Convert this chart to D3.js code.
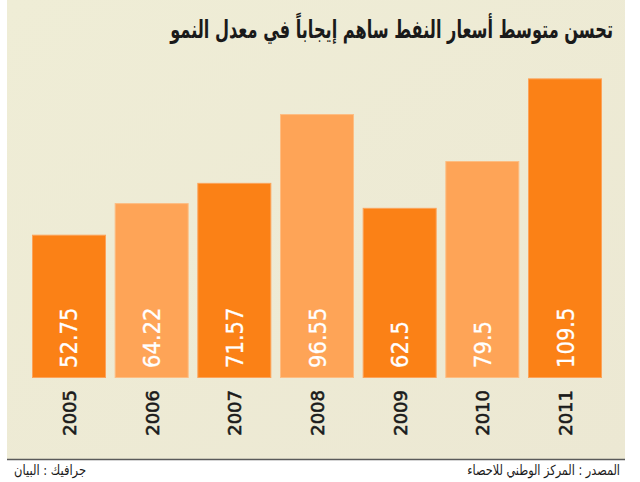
<!DOCTYPE html>
<html><head><meta charset="utf-8">
<script src="https://cdn.jsdelivr.net/npm/d3@7/dist/d3.min.js"></script>
<style>html,body{margin:0;padding:0;background:#fff;}svg{display:block;}</style>
</head><body>
<script>
const years = ["2005","2006","2007","2008","2009","2010","2011"];
const values = [52.75, 64.22, 71.57, 96.55, 62.5, 79.5, 109.5];
const shades = ["dark","light","dark","light","dark","light","dark"];
const title = "تحسن متوسط أسعار النفط ساهم إيجاباً في معدل النمو";
const source = "المصدر : المركز الوطني للاحصاء";
const credit = "جرافيك : البيان";

const W = 640, H = 482, base = 378;
const svg = d3.select("body").append("svg").attr("width", W).attr("height", H);
const defs = svg.append("defs");
const g = defs.append("linearGradient").attr("id","bg").attr("x1","0").attr("y1","0").attr("x2","1").attr("y2","1");
g.append("stop").attr("offset","0").attr("stop-color","#EFEDD6");
g.append("stop").attr("offset","1").attr("stop-color","#ECE8D3");

svg.append("rect").attr("x",7).attr("y",0).attr("width",618).attr("height",459).attr("fill","url(#bg)");
svg.append("line").attr("x1",7).attr("x2",625).attr("y1",459.5).attr("y2",459.5).attr("stroke","#5a5a5a").attr("stroke-width",1.5);

const x = d3.scaleBand().domain(years).range([32, 602]).paddingInner(0.105).paddingOuter(0);
const y = d3.scaleLinear().domain([0, 110]).range([380, 77]);
const fill = {dark:"#FB8116", light:"#FEA457"};
const edge = {dark:"#FCA35A", light:"#FDBD82"};

const bars = svg.append("g").selectAll("g").data(years).join("g");
bars.append("rect")
  .attr("x", d => x(d)+0.5).attr("width", x.bandwidth()-1)
  .attr("y", (d,i) => y(values[i])+0.5).attr("height", (d,i) => base - y(values[i]) - 1)
  .attr("fill", (d,i) => fill[shades[i]]).attr("stroke", (d,i) => edge[shades[i]]).attr("stroke-width",1);

bars.append("text")
  .attr("transform", d => `translate(${x(d)+x.bandwidth()/2+8.5},368) rotate(-90)`)
  .attr("text-anchor","start")
  .attr("font-family","'Liberation Sans Narrow','DejaVu Sans Condensed',sans-serif")
  .attr("font-size",23.5).attr("fill","#fff").attr("stroke","#fff").attr("stroke-width",0.3)
  .text((d,i) => values[i]);

bars.append("text")
  .attr("transform", d => `translate(${x(d)+x.bandwidth()/2+7},390) rotate(-90)`)
  .attr("text-anchor","end")
  .attr("font-family","'DejaVu Sans',sans-serif")
  .attr("font-size",18).attr("fill","#1a1a1a").attr("stroke","#1a1a1a").attr("stroke-width",0.6)
  .text(d => d);

// fit a right-anchored text to a target width by horizontal scaling
function fitText(sel, right, baseline, width) {
  const len = sel.node().getComputedTextLength();
  const sx = width / len;
  sel.attr("x", 0).attr("y", 0).attr("text-anchor","end")
     .attr("transform", `translate(${right},${baseline}) scale(${sx},1)`);
}

const t = svg.append("text")
  .attr("font-family","'DejaVu Sans',sans-serif").attr("font-size",25).attr("font-weight","bold").attr("fill","#1a1a1a")
  .text(title);
fitText(t, 613, 38, 443);

const s = svg.append("text")
  .attr("font-family","'DejaVu Sans',sans-serif").attr("font-size",14).attr("fill","#1a1a1a")
  .text(source);
fitText(s, 620, 475, 153);
const c = svg.append("text")
  .attr("font-family","'DejaVu Sans',sans-serif").attr("font-size",14).attr("fill","#1a1a1a")
  .text(credit);
fitText(c, 86, 475, 72);
</script>
</body></html>
